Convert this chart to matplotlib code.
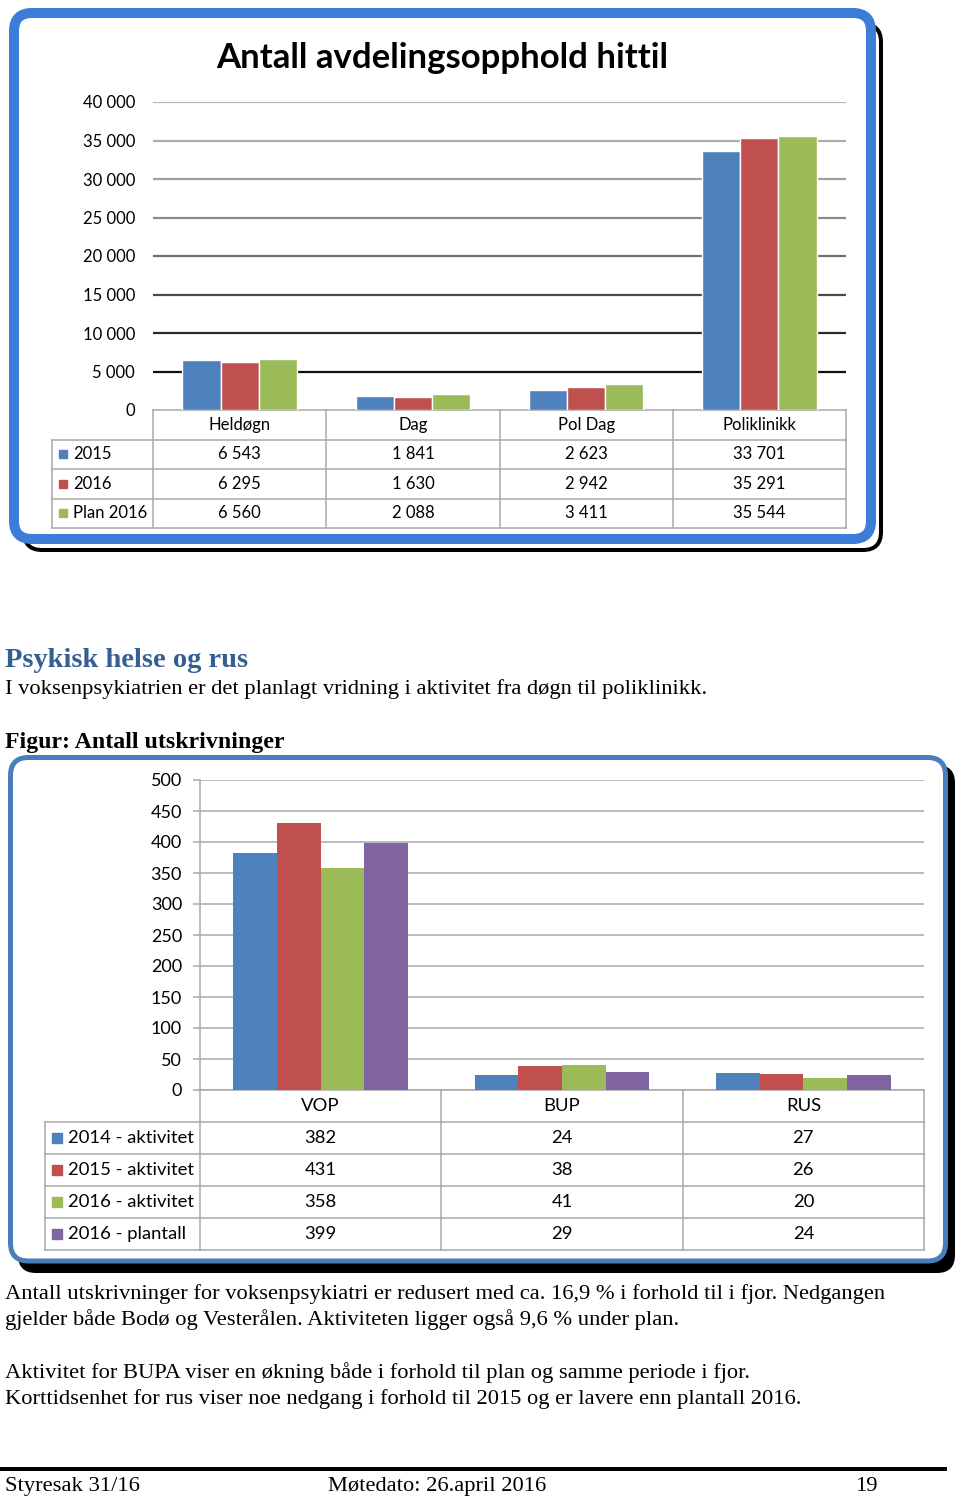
import matplotlib
matplotlib.use("Agg")
import matplotlib.pyplot as plt
from matplotlib.patches import FancyBboxPatch, Rectangle

# --- Figur 1: Antall avdelingsopphold hittil ---
opphold_kategorier = ["Heldøgn", "Dag", "Pol Dag", "Poliklinikk"]
opphold_serier = ["2015", "2016", "Plan 2016"]
opphold_2015 = [6543, 1841, 2623, 33701]
opphold_2016 = [6295, 1630, 2942, 35291]
opphold_plan = [6560, 2088, 3411, 35544]
opphold_ticks = [0, 5000, 10000, 15000, 20000, 25000, 30000, 35000, 40000]

# --- Figur 2: Antall utskrivninger ---
utskr_kategorier = ["VOP", "BUP", "RUS"]
utskr_serier = ["2014 - aktivitet", "2015 - aktivitet", "2016 - aktivitet", "2016 - plantall"]
utskr_2014 = [382, 24, 27]
utskr_2015 = [431, 38, 26]
utskr_2016 = [358, 41, 20]
utskr_plan = [399, 29, 24]
utskr_ticks = [0, 50, 100, 150, 200, 250, 300, 350, 400, 450, 500]

colors = ["#4f81bd", "#c0504d", "#9bbb59", "#8064a2"]
grid_top = ["#000000", "#111111", "#2a2a2a", "#4a4a4a", "#6e6e6e", "#8a8a8a", "#a0a0a0", "#adadad", "#b5b5b5"]

W, H = 960, 1499
PT = 0.72  # points per pixel at dpi 100
CHART_FONT = "Lato"
DOC_FONT = "Liberation Serif"
DOC_FS = 16.2


def fmt(v):
    return f"{v:,}".replace(",", " ")


def px_axes(fig, x0, y0, x1, y1):
    return fig.add_axes([x0 / W, 1 - y1 / H, (x1 - x0) / W, (y1 - y0) / H])


def draw_table(ov, x0, x1, y_top, row_h, label_x0, categories, series, values, fs, marker):
    n = len(categories)
    colw = (x1 - x0) / n
    nrows = len(series)
    y_bottom = y_top + row_h * (nrows + 1)
    lc = "#a6a6a6"
    lw = 1.5 * PT
    # horisontale linjer
    ov.plot([x0, x1], [y_top, y_top], color=lc, lw=lw, zorder=3)
    for r in range(1, nrows + 2):
        y = y_top + r * row_h
        ov.plot([label_x0, x1], [y, y], color=lc, lw=lw, zorder=3)
    # vertikale linjer
    for c in range(n + 1):
        x = x0 + c * colw
        ov.plot([x, x], [y_top, y_bottom], color=lc, lw=lw, zorder=3)
    ov.plot([label_x0, label_x0], [y_top + row_h, y_bottom], color=lc, lw=lw, zorder=3)
    # kategorinavn
    for c, cat in enumerate(categories):
        ov.text(x0 + (c + 0.5) * colw, y_top + row_h / 2, cat, ha="center", va="center",
                fontsize=fs, family=CHART_FONT, zorder=4)
    # serier
    for r, (name, vals) in enumerate(zip(series, values)):
        yc = y_top + (r + 1.5) * row_h
        ov.add_patch(Rectangle((label_x0 + 7, yc - marker / 2), marker, marker,
                               color=colors[r], zorder=4))
        ov.text(label_x0 + 7 + marker + 6, yc, name, ha="left", va="center",
                fontsize=fs, family=CHART_FONT, zorder=4)
        for c, v in enumerate(vals):
            ov.text(x0 + (c + 0.5) * colw, yc, fmt(v), ha="center", va="center",
                    fontsize=fs, family=CHART_FONT, zorder=4)


fig = plt.figure(figsize=(W / 100, H / 100), dpi=100)
ov = fig.add_axes([0, 0, 1, 1], zorder=0)
ov.set_xlim(0, W)
ov.set_ylim(H, 0)
ov.axis("off")

# ramme rundt figur 1
ov.add_patch(FancyBboxPatch((24, 24), 857, 526, boxstyle="round,pad=0,rounding_size=18",
                            fc="none", ec="black", lw=4 * PT, zorder=0))
ov.add_patch(FancyBboxPatch((14, 13), 857, 526, boxstyle="round,pad=0,rounding_size=18",
                            fc="white", ec="#3b7dd8", lw=10 * PT, zorder=1))

# ramme rundt figur 2
ov.add_patch(FancyBboxPatch((18, 765), 937, 508, boxstyle="round,pad=0,rounding_size=18",
                            fc="black", ec="none", zorder=0))
ov.add_patch(FancyBboxPatch((10.5, 757.5), 935, 503.5, boxstyle="round,pad=0,rounding_size=18",
                            fc="white", ec="#4a7ebb", lw=5 * PT, zorder=1))

# ---------- figur 1 ----------
ax1 = px_axes(fig, 153, 102, 846, 410)
ax1.set_zorder(2)
ax1.patch.set_alpha(0)
x = list(range(len(opphold_kategorier)))
bw = 0.22
for i, vals in enumerate([opphold_2015, opphold_2016, opphold_plan]):
    ax1.bar([xi + 0.5 + (i - 1) * bw for xi in x], vals, bw, color=colors[i],
            edgecolor="white", lw=1.0, zorder=3)
ax1.set_xlim(0, len(opphold_kategorier))
ax1.set_ylim(0, 40000)
for t, c in zip(opphold_ticks[1:], grid_top[1:]):
    ax1.axhline(t, color=c, lw=1.6, zorder=1)
ax1.set_yticks(opphold_ticks)
ax1.set_yticklabels([fmt(t) for t in opphold_ticks], family=CHART_FONT, fontsize=12)
ax1.tick_params(axis="y", length=0, pad=18 * PT)
ax1.set_xticks([])
for s in ax1.spines.values():
    s.set_visible(False)

ov.text(442.5, 68, "Antall avdelingsopphold hittil", ha="center", va="baseline",
        fontsize=25, fontweight="bold", family=CHART_FONT, zorder=4)

draw_table(ov, 153, 846, 410, 29.5, 52, opphold_kategorier, opphold_serier,
           [opphold_2015, opphold_2016, opphold_plan], 12, 8)

# ---------- figur 2 ----------
ax2 = px_axes(fig, 200, 780, 924, 1090)
ax2.set_zorder(2)
ax2.patch.set_alpha(0)
x = list(range(len(utskr_kategorier)))
bw2 = 0.181
for i, vals in enumerate([utskr_2014, utskr_2015, utskr_2016, utskr_plan]):
    ax2.bar([xi + 0.5 + (i - 1.5) * bw2 for xi in x], vals, bw2, color=colors[i],
            lw=0, zorder=3)
ax2.set_xlim(0, len(utskr_kategorier))
ax2.set_ylim(0, 500)
ax2.set_yticks(utskr_ticks)
ax2.set_yticklabels([str(t) for t in utskr_ticks], family=CHART_FONT, fontsize=13)
ax2.grid(axis="y", color="#a6a6a6", lw=1.5 * PT, zorder=1)
ax2.tick_params(axis="y", length=7 * PT, width=1.5 * PT, color="#a6a6a6", pad=11 * PT)
ax2.set_xticks([])
for k, s in ax2.spines.items():
    s.set_visible(k == "left")
ax2.spines["left"].set_color("#a6a6a6")
ax2.spines["left"].set_linewidth(1.5 * PT)

draw_table(ov, 200, 924, 1090, 32, 45, utskr_kategorier, utskr_serier,
           [utskr_2014, utskr_2015, utskr_2016, utskr_plan], 13.3, 10)

# ---------- dokumenttekst ----------
ov.text(5, 667, "Psykisk helse og rus", fontsize=20.5, fontweight="bold", color="#365f91",
        family=DOC_FONT, va="baseline")
ov.text(5, 694, "I voksenpsykiatrien er det planlagt vridning i aktivitet fra døgn til poliklinikk.",
        fontsize=DOC_FS, family=DOC_FONT, va="baseline")
ov.text(5, 748, "Figur: Antall utskrivninger", fontsize=17.2, fontweight="bold",
        family=DOC_FONT, va="baseline")

avsnitt = [
    (1299, "Antall utskrivninger for voksenpsykiatri er redusert med ca. 16,9 % i forhold til i fjor. Nedgangen"),
    (1325, "gjelder både Bodø og Vesterålen. Aktiviteten ligger også 9,6 % under plan."),
    (1378, "Aktivitet for BUPA viser en økning både i forhold til plan og samme periode i fjor."),
    (1404, "Korttidsenhet for rus viser noe nedgang i forhold til 2015 og er lavere enn plantall 2016."),
]
for y, txt in avsnitt:
    ov.text(5, y, txt, fontsize=DOC_FS, family=DOC_FONT, va="baseline")

ov.plot([0, 945], [1469, 1469], color="black", lw=4 * PT)
ov.text(5, 1491, "Styresak 31/16", fontsize=DOC_FS, family=DOC_FONT, va="baseline")
ov.text(328, 1491, "Møtedato: 26.april 2016", fontsize=DOC_FS, family=DOC_FONT, va="baseline")
ov.text(855, 1491, "19", fontsize=DOC_FS, family=DOC_FONT, va="baseline")

fig.savefig("out.png", dpi=100)
